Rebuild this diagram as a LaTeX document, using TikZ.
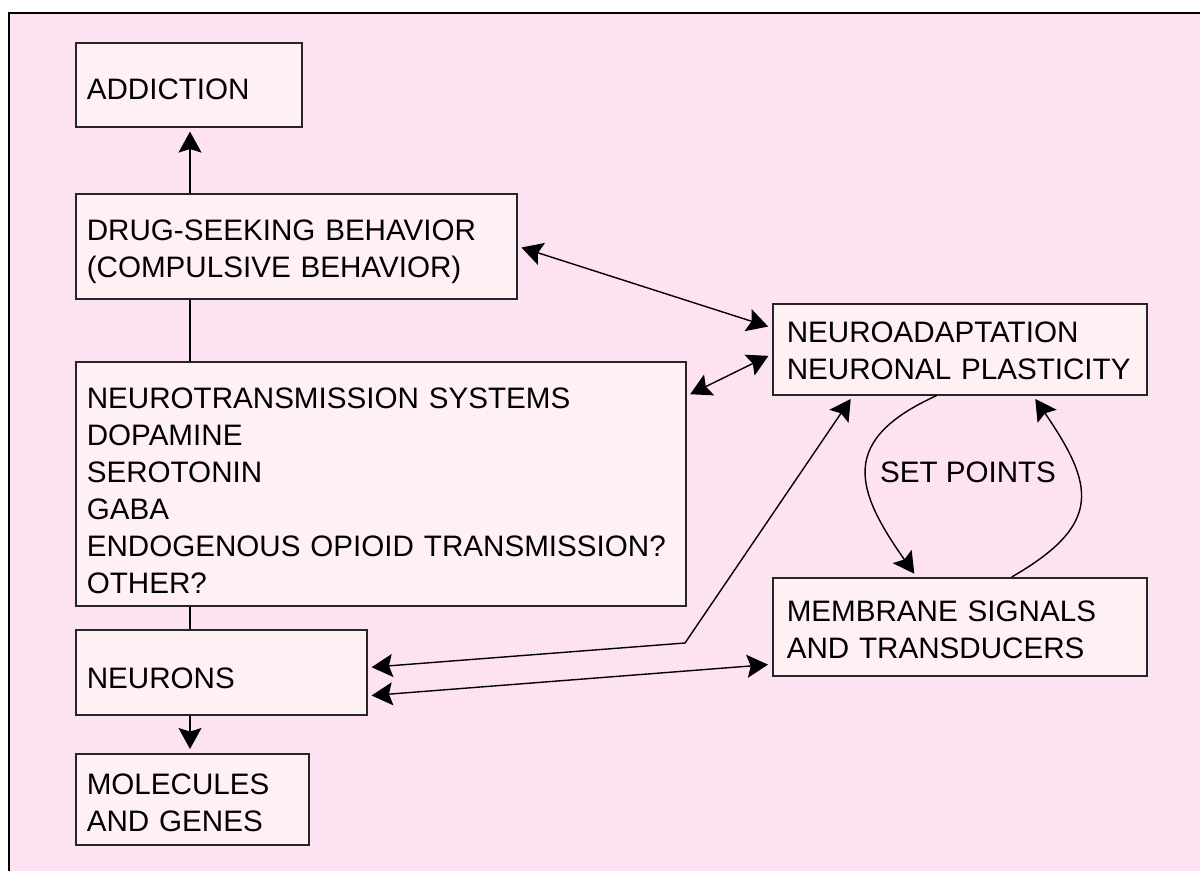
\documentclass[tikz,border=0pt]{standalone}
\usepackage{fontspec}
\setmainfont{Liberation Sans}
\usepackage{xcolor}
\usepackage{tikz}
\usetikzlibrary{positioning,%
  arrows.meta,%
  calc%
}
\definecolor{bgpink}{RGB}{253,227,241}
\definecolor{boxpink}{RGB}{255,240,244}

\begin{document}
\begin{tikzpicture}
                    [
                        x=0.5pt, y=-0.5pt,
                        every node/.style={font=\fontsize{14.8pt}{18.5pt}\selectfont},
                        box/.style={rectangle, draw=black!85, line width=0.8pt, fill=boxpink, anchor=north west, align=left, inner xsep=5.5pt, inner ysep=0pt, text height=15pt},
                        line/.style={line width=0.7pt},
                        tip/.style={line, -{Stealth[length=10.5pt,width=11.5pt,inset=1.8pt]}, shorten >=2pt},
                        both/.style={line, {Stealth[length=10.5pt,width=11.5pt,inset=1.8pt]}-{Stealth[length=10.5pt,width=11.5pt,inset=1.8pt]}, shorten <=2pt, shorten >=2pt}
                    ]

                    % Rahmen
                    \useasboundingbox (0,0) rectangle (1200,871);
                    \draw[line width=1pt, fill=bgpink] (9,13) rectangle (1215,885);

                    % linke Spalte
                    \node[box, minimum height=42pt, text width=102pt] (addiction) at (75,42) {ADDICTION};
                    \node[box, minimum height=52.5pt, text width=209.5pt, text height=16.2pt] (seeking) at (75,193) {DRUG-SEEKING BEHAVIOR\\(COMPULSIVE BEHAVIOR)};
                    \node[box, minimum height=122pt, text width=294pt, text height=17.6pt] (transmit) at (75,361) {NEUROTRANSMISSION SYSTEMS\\DOPAMINE\\SEROTONIN\\GABA\\ENDOGENOUS OPIOID TRANSMISSION?\\OTHER?};
                    \node[box, minimum height=42.5pt, text width=134.5pt, text height=16.6pt] (neurons) at (75,629) {NEURONS};
                    \node[box, minimum height=45.5pt, text width=105.5pt, text height=13.6pt] (molecules) at (75,753) {MOLECULES\\AND GENES};

                    % rechte Spalte
                    \node[box, inner xsep=7pt, minimum height=45.5pt, text width=173pt, text height=12pt] (adapt) at (772,303) {NEUROADAPTATION\\NEURONAL PLASTICITY};
                    \node[box, inner xsep=7pt, minimum height=49pt, text width=173pt, text height=13.6pt] (membrane) at (772,577) {MEMBRANE SIGNALS\\AND TRANSDUCERS};
                    \node (setpts) at (968,472) {SET POINTS};

                    \coordinate (spine) at (190,0);
                    \coordinate (bend) at (685,643);

                    \draw[tip] (seeking.north -| spine) -- (addiction.south -| spine);
                    \draw[line] (seeking.south -| spine) -- (transmit.north -| spine);
                    \draw[line] (transmit.south -| spine) -- (neurons.north -| spine);
                    \draw[tip] (neurons.south -| spine) -- (molecules.north -| spine);

                    \draw[both] (seeking.east) -- ([yshift=10.75pt]adapt.west);
                    \draw[both] ([yshift=-17.5pt]transmit.north east) -- ([yshift=-2.4pt]adapt.west);
                    \draw[both] ([yshift=2.4pt]neurons.east) -- (bend) -- ([xshift=40.5pt]adapt.south west);
                    \draw[both] ([yshift=-11.75pt]neurons.east) -- ([yshift=6.15pt]membrane.south west);

                    % Regelkreis
                    \draw[tip] ([xshift=82.3pt]adapt.south west) .. controls (838.8,440) and (854.7,489) .. ([xshift=72.3pt]membrane.north west);
                    \draw[tip] ([xshift=119.85pt]membrane.north west) .. controls (1103.7,524) and (1094,485) .. ([xshift=130.5pt]adapt.south west);
                \end{tikzpicture}
\end{document}
